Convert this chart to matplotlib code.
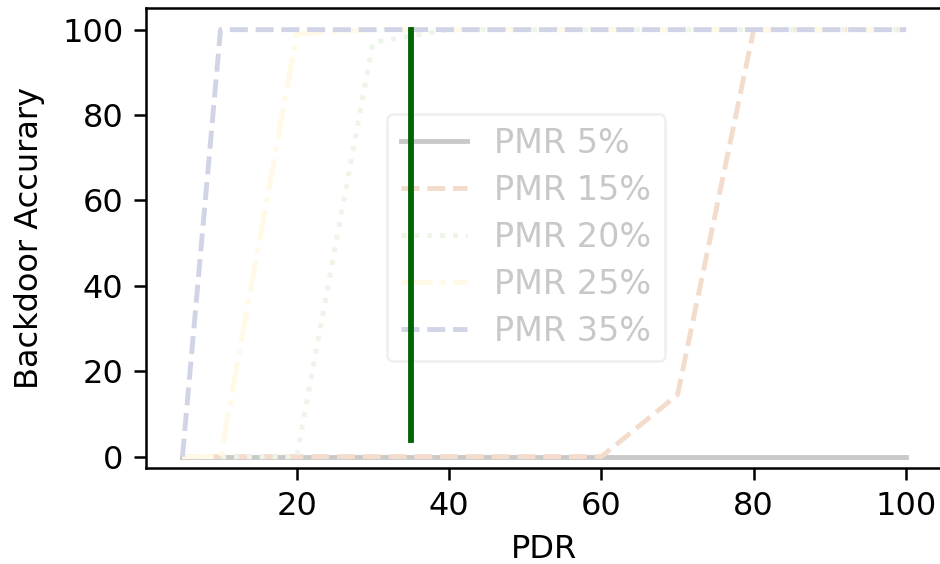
import matplotlib
matplotlib.use("Agg")
import matplotlib.pyplot as plt

pdr = [5, 10, 20, 30, 40, 50, 60, 70, 80, 90, 100]
pmr5 = [0, 0, 0, 0, 0, 0, 0, 0, 0, 0, 0]
pmr15 = [0, 0, 0, 0, 0, 0, 0, 14.5, 100, 100, 100]
pmr20_x = [20, 30, 40, 50, 60, 70, 80, 90, 100]
pmr20 = [0, 97, 100, 100, 100, 100, 100, 100, 100]
pmr25_x = [10, 20, 30, 40, 50, 60, 70, 80, 90, 100]
pmr25 = [0, 99, 100, 100, 100, 100, 100, 100, 100, 100]
pmr35 = [0, 100, 100, 100, 100, 100, 100, 100, 100, 100, 100]
pmr20_lead_x = [5, 10, 20]
pmr20_lead = [0, 0, 0]
pmr25_lead_x = [5, 10]
pmr25_lead = [0, 0]
marker_x = 35
marker_y = [4, 100]

fig = plt.figure(figsize=(9.4, 5.64), dpi=100)
ax = fig.add_axes([0.1556, 0.1707, 0.8468, 0.8146])

lw = 3.5
ax.plot(pdr, pmr5, '-', color='#c9c9c9', lw=lw, label='PMR 5%')
ax.plot(pdr, pmr15, '--', color='#f3dccb', lw=lw, label='PMR 15%')
ax.plot(pmr20_lead_x + pmr20_x[1:], pmr20_lead + pmr20[1:], ':', color='#ecf5e7', lw=lw, label='PMR 20%')
ax.plot(pmr25_lead_x + pmr25_x[1:], pmr25_lead + pmr25[1:], '-.', color='#fff9e6', lw=lw, label='PMR 25%')
ax.plot(pdr, pmr35, '--', color='#d1d4e7', lw=lw, label='PMR 35%')

ax.plot([marker_x, marker_x], marker_y, '-', color='#006400', lw=4.2, zorder=6)

ax.set_xlim(0.25, 104.75)
ax.set_ylim(-2.6, 105)
ax.set_xticks([20, 40, 60, 80, 100])
ax.set_yticks([0, 20, 40, 60, 80, 100])
ax.tick_params(axis='both', labelsize=23, length=8.5, width=1.8, pad=8)
for s in ax.spines.values():
    s.set_linewidth(1.8)

ax.set_xlabel('PDR', fontsize=23, labelpad=9)
ax.set_ylabel('Backdoor Accurary', fontsize=23, labelpad=12)

leg = ax.legend(loc='center', bbox_to_anchor=(0.477, 0.501), fontsize=24,
                labelcolor='#c8c8c8', framealpha=1.0, labelspacing=0.42)
leg.get_frame().set_edgecolor('#efefef')
leg.get_frame().set_linewidth(1.8)

fig.savefig('out.png', dpi=100)
